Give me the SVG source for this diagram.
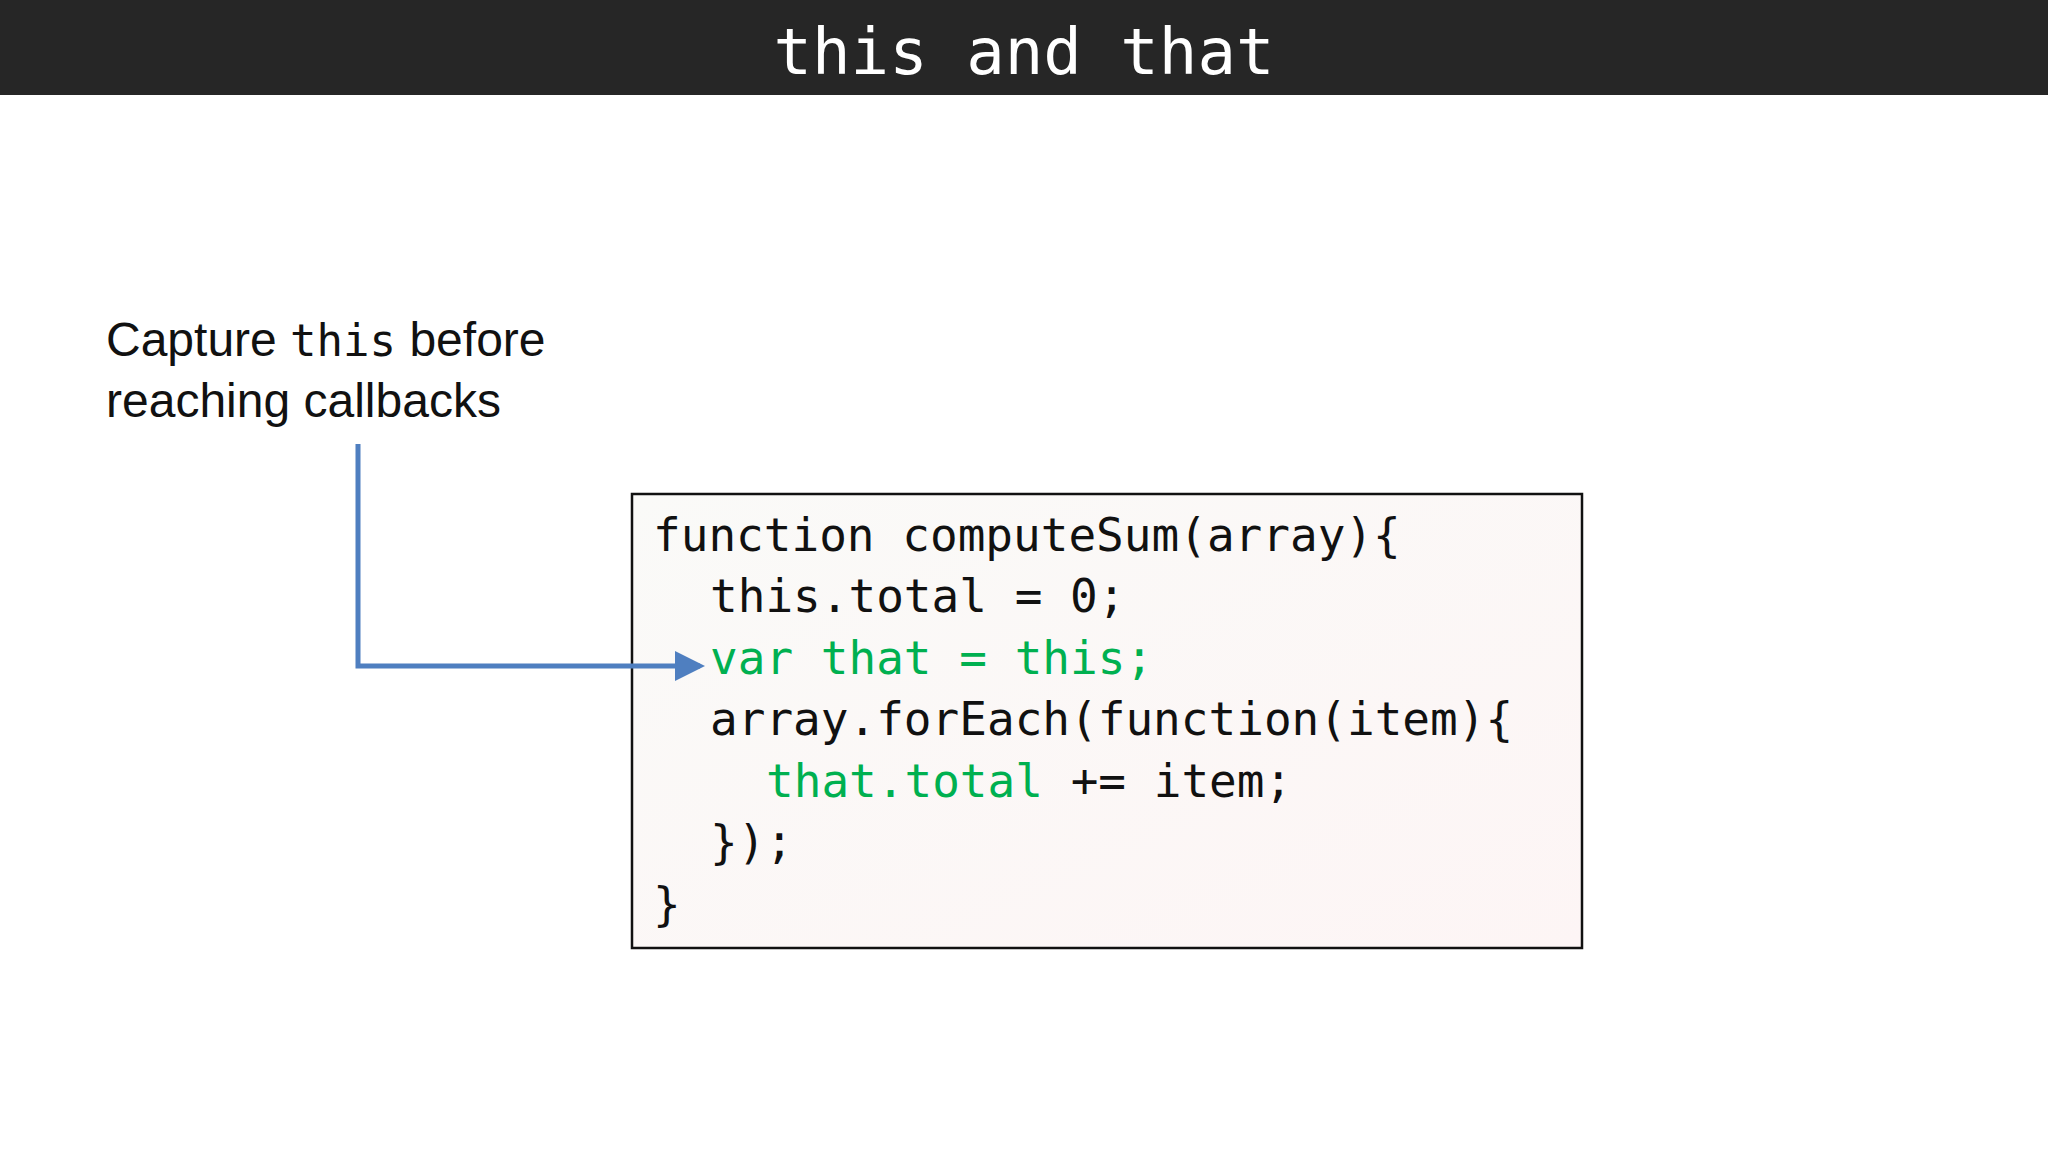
<svg xmlns="http://www.w3.org/2000/svg" width="2048" height="1152" viewBox="0 0 2048 1152">
<style>
.code{font-family:"DejaVu Sans Mono","Liberation Mono",monospace;font-size:46px;fill:#111}
.g{fill:#00b050}
.lbl{font-family:"Liberation Sans",Arial,sans-serif;font-size:48px;fill:#111}
</style>
<defs>
<marker id="ah" markerWidth="6" markerHeight="6" refX="5" refY="3" orient="auto" markerUnits="strokeWidth"><path d="M0,0 L6,3 L0,6 Z" fill="#4f7fc0"/></marker>
<linearGradient id="bg" x1="0" y1="0" x2="1" y2="1"><stop offset="0" stop-color="#fafaf8"/><stop offset="1" stop-color="#fdf5f5"/></linearGradient>
</defs>
<rect width="2048" height="1152" fill="#fff"/>
<g id="title">
<rect width="2048" height="95" fill="#262626"/>
<text x="1024" y="74" text-anchor="middle" font-family="DejaVu Sans Mono,monospace" font-size="64" fill="#fff">this and that</text>
</g>
<g id="label">
<text class="lbl" x="106" y="356">Capture <tspan font-family="DejaVu Sans Mono,monospace" font-size="44">this</tspan> before</text>
<text class="lbl" x="106" y="417">reaching callbacks</text>
</g>
<g id="code">
<rect x="632" y="494" width="950" height="454" fill="url(#bg)" stroke="#111" stroke-width="2.5"/>
<text class="code" x="653" y="551">function computeSum(array){</text>
<text class="code" x="710" y="612">this.total = 0;</text>
<text class="code g" x="710" y="674">var that = this;</text>
<text class="code" x="710" y="735">array.forEach(function(item){</text>
<text class="code" x="766" y="797"><tspan class="g">that.total</tspan> += item;</text>
<text class="code" x="710" y="858">});</text>
<text class="code" x="653" y="920">}</text>
</g>
<g id="connectors">
<path d="M358,444 V666 H700" fill="none" stroke="#4f7fc0" stroke-width="5" marker-end="url(#ah)"/>
</g>
</svg>
